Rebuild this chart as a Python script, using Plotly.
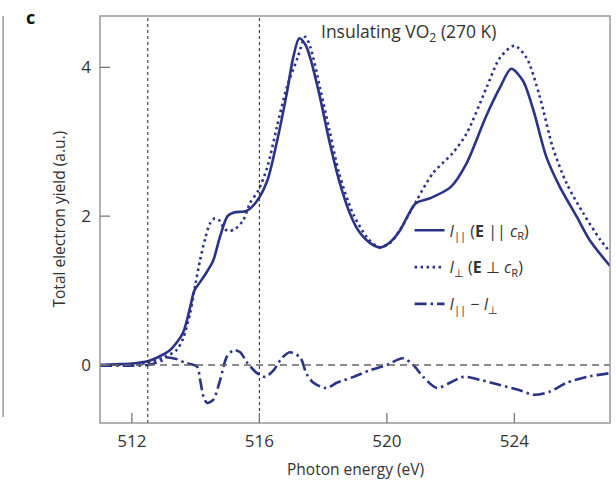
import plotly.graph_objects as go

# ---- data ----
e_par = [511.0, 511.5, 512.0, 512.5, 512.8, 513.2, 513.6, 513.83, 513.96, 514.15, 514.35, 514.55, 514.75,
         515.0, 515.2, 515.6, 515.9, 516.25, 516.55, 516.86, 517.06, 517.25, 517.45, 517.6, 517.9,
         518.2, 518.5, 518.8, 519.1, 519.5, 519.8, 520.1, 520.4, 520.9, 521.35, 522.0, 522.5,
         523.1, 523.55, 523.9, 524.27, 524.6, 525.0, 525.43, 525.96, 526.36, 527.0]
i_par = [0.0, 0.01, 0.02, 0.05, 0.1, 0.2, 0.43, 0.78, 1.0, 1.12, 1.25, 1.4, 1.7,
         2.0, 2.05, 2.07, 2.19, 2.48, 3.0, 3.65, 4.13, 4.39, 4.3, 4.12, 3.6,
         3.0, 2.48, 2.08, 1.81, 1.63, 1.58, 1.65, 1.8, 2.17, 2.24, 2.39, 2.71,
         3.33, 3.73, 3.98, 3.82, 3.42, 2.8, 2.39, 1.99, 1.68, 1.33]

e_perp = [511.0, 512.0, 512.5, 513.0, 513.4, 513.6, 513.83, 514.0, 514.14, 514.3, 514.45, 514.6, 514.75,
          514.9, 515.05, 515.25, 515.5, 515.7, 515.97, 516.25, 516.55, 516.86, 517.2, 517.44, 517.6,
          517.9, 518.2, 518.5, 518.93, 519.37, 519.75, 520.1, 520.5, 520.93, 521.45, 522.07, 522.5,
          523.13, 523.55, 524.0, 524.38, 524.8, 525.2, 525.64, 526.16, 526.7, 527.0]
i_perp = [0.0, 0.01, 0.03, 0.1, 0.2, 0.35, 0.7, 1.1, 1.41, 1.7, 1.9, 1.97, 1.94,
          1.83, 1.8, 1.83, 1.95, 2.17, 2.35, 2.66, 3.2, 3.73, 4.13, 4.41, 4.27,
          3.73, 3.15, 2.58, 2.04, 1.72, 1.58, 1.64, 1.88, 2.21, 2.58, 2.85, 3.11,
          3.73, 4.13, 4.29, 4.13, 3.6, 2.93, 2.44, 2.04, 1.68, 1.52]

e_diff = [511.0, 512.0, 512.5, 512.9, 513.1, 513.4, 513.67, 514.04, 514.14, 514.25, 514.36, 514.55, 514.77,
          514.98, 515.2, 515.4, 515.6, 515.93, 516.18, 516.45, 516.7, 516.96, 517.28, 517.48, 517.7,
          518.1, 518.43, 518.95, 519.47, 520.0, 520.5, 520.83, 521.14, 521.57, 521.98, 522.4, 522.93,
          523.55, 524.17, 524.6, 525.1, 525.64, 526.27, 527.0]
i_diff = [-0.01, -0.01, 0.0, 0.05, 0.1, 0.08, 0.03, -0.02, -0.2, -0.43, -0.51, -0.47, -0.2,
          0.11, 0.2, 0.17, 0.04, -0.11, -0.16, -0.07, 0.09, 0.17, 0.1, -0.12, -0.24,
          -0.31, -0.24, -0.16, -0.07, 0.0, 0.09, 0.0, -0.16, -0.31, -0.24, -0.16, -0.2,
          -0.27, -0.34, -0.4, -0.36, -0.24, -0.16, -0.11]

x_ticks = [512, 516, 520, 524]
y_ticks = [0, 2, 4]
x_range = [511, 527]
y_range = [-0.78, 4.69]
v_lines = [512.5, 516]
h_line = 0

names = ["<i>I</i><sub>||</sub> (<b>E</b> || <i>c</i><sub>R</sub>)",
         "<i>I</i><sub>⊥</sub> (<b>E</b> ⊥ <i>c</i><sub>R</sub>)",
         "<i>I</i><sub>||</sub> − <i>I</i><sub>⊥</sub>"]

NAVY = "#2b3388"
FONT = "Open Sans"
AXIS_GRAY = "#999999"
TICK_GRAY = "#7a7a7a"

W, H = 616, 481
M = dict(l=100, r=6, t=16, b=58)
PW = W - M["l"] - M["r"]
PH = H - M["t"] - M["b"]
TICK_LEN = 10

fig = go.Figure()
fig.add_trace(go.Scatter(x=e_par, y=i_par, mode="lines", name=names[0], legendgroup="a",
                         line=dict(color=NAVY, width=2.6, shape="spline", smoothing=0.8)))
fig.add_trace(go.Scatter(x=e_perp, y=i_perp, mode="lines", name=names[1], legendgroup="b",
                         line=dict(color=NAVY, width=2.6, dash="2.5px,3.5px", shape="spline", smoothing=0.8)))
fig.add_trace(go.Scatter(x=e_diff, y=i_diff, mode="lines", name=names[2], legendgroup="c",
                         line=dict(color=NAVY, width=2.6, dash="12px,4px,2.5px,4px", shape="spline", smoothing=0.8)))

shapes = []
for xv in v_lines:
    shapes.append(dict(type="line", xref="x", yref="paper", x0=xv, x1=xv, y0=0, y1=1,
                       line=dict(color="#222", width=1, dash="3px,3px")))
shapes.append(dict(type="line", xref="paper", yref="y", x0=0, x1=1, y0=h_line, y1=h_line,
                   line=dict(color="#666", width=1.6, dash="7px,5px")))
# frame around the plot area
shapes.append(dict(type="rect", xref="paper", yref="paper", x0=0, x1=1, y0=0, y1=1,
                   line=dict(color=AXIS_GRAY, width=1.5), fillcolor="rgba(0,0,0,0)"))
# inside tick marks at the tick values
for xv in x_ticks:
    shapes.append(dict(type="line", xref="x", yref="paper", x0=xv, x1=xv, y0=0, y1=TICK_LEN / PH,
                       line=dict(color=TICK_GRAY, width=1.3)))
for yv in y_ticks:
    shapes.append(dict(type="line", xref="paper", yref="y", x0=0, x1=TICK_LEN / PW, y0=yv, y1=yv,
                       line=dict(color=TICK_GRAY, width=1.3)))
# edge of neighbouring panel
shapes.append(dict(type="line", xref="paper", yref="paper", x0=-0.19, x1=-0.19, y0=0.015, y1=1,
                   line=dict(color=AXIS_GRAY, width=1.5)))
fig.update_layout(shapes=shapes)

fig.add_annotation(text="Insulating VO<sub>2</sub> (270 K)", xref="paper", yref="paper",
                   x=0.43, y=0.96, xanchor="left", yanchor="middle", showarrow=False,
                   font=dict(family=FONT, size=17.5, color="#333"))
fig.add_annotation(text="<b>c</b>", xref="paper", yref="paper", x=-0.137, y=1.0,
                   xanchor="center", yanchor="middle", showarrow=False, yshift=-1,
                   font=dict(family=FONT, size=18, color="#111"))
# axis titles
fig.add_annotation(text="Photon energy (eV)", xref="paper", yref="paper", x=0.5, y=0,
                   xanchor="center", yanchor="middle", yshift=-46, showarrow=False,
                   font=dict(family=FONT, size=15.5, color="#333"))
fig.add_annotation(text="Total electron yield (a.u.)", xref="paper", yref="paper", x=0, y=0.5,
                   xanchor="center", yanchor="middle", xshift=-42, textangle=-90, showarrow=False,
                   font=dict(family=FONT, size=15.5, color="#333"))

axis_common = dict(showline=False, ticks="", showgrid=False, zeroline=False, automargin=False,
                   tickfont=dict(family=FONT, size=17, color="#333"))
fig.update_xaxes(range=x_range, tickvals=x_ticks, ticklabelstandoff=6, **axis_common)
fig.update_yaxes(range=y_range, tickvals=y_ticks, ticklabelstandoff=8, **axis_common)

fig.update_layout(
    width=W, height=H,
    margin=M,
    plot_bgcolor="white", paper_bgcolor="white",
    font=dict(family=FONT, color="#333"),
    legend=dict(x=0.607, y=0.515, xanchor="left", yanchor="top", bgcolor="rgba(0,0,0,0)",
                font=dict(family=FONT, size=16, color="#333"), tracegroupgap=13,
                traceorder="grouped"),
    showlegend=True,
)

fig.write_html("out.html", config={"displayModeBar": False},
               post_script="document.body.style.margin='0';document.body.style.padding='0';")
